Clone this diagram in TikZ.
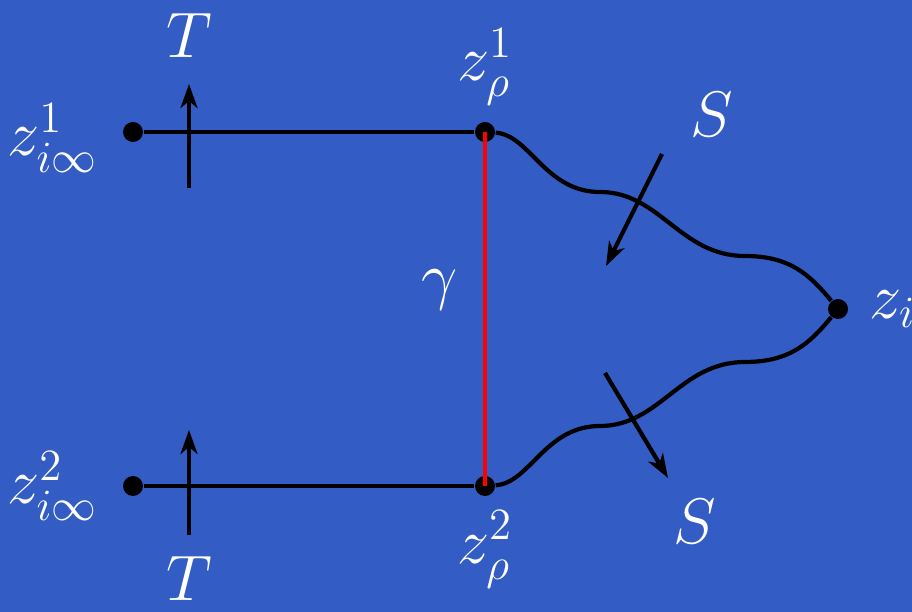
\documentclass[tikz,border=0pt]{standalone}
\usepackage{amsfonts}
\usepackage{amsmath}
\usepackage{tikz}
\usetikzlibrary{positioning, arrows, arrows.meta}
\definecolor{slideblue}{RGB}{51,93,196}
\newcommand{\biglab}[1]{\scalebox{1.06}{$#1$}}
\tikzstyle{point} = [circle, fill=black, inner sep=0pt, minimum size=0.2cm]
\tikzstyle{lab} = [text=white, inner sep=1pt, font=\LARGE]
\tikzstyle{line} = [line width=1.2pt]
\tikzstyle{arrow} = [line width=1.2pt,-{Stealth[length=2.4mm,width=1.7mm,inset=0.7mm]}]

\begin{document}
\begin{tikzpicture}
        \fill[slideblue] (0,0) rectangle (9.12,6.12);
        \useasboundingbox (0,0) rectangle (9.12,6.12);

        \node (zinf1) [point] at (1.33,4.80) {};
        \node (zinf2) [point] at (1.33,1.26) {};
        \node (zrho1) [point] at (4.85,4.80) {};
        \node (zrho2) [point] at (4.85,1.26) {};
        \node (zi) [point] at (8.38,3.03) {};

        \node (zinf1lab) [lab, left=0.2cm of zinf1, yshift=-0.06cm] {\biglab{z^1_{i\infty}}};
        \node (zinf2lab) [lab, left=0.2cm of zinf2] {\biglab{z^2_{i\infty}}};
        \node (zrho1lab) [lab, above=0.12cm of zrho1] {\biglab{z^1_\rho}};
        \node (zrho2lab) [lab, below=0.1cm of zrho2] {\biglab{z^2_\rho}};
        \node (zilab) [lab, right=0.17cm of zi] {\biglab{z_i}};
        \node (gamma) [lab] at (4.40,3.22) {\biglab{\gamma}};

        \coordinate (tb1) at (1.89,4.24);
        \coordinate (tt1) at (1.89,5.28);
        \coordinate (tb2) at (1.89,0.77);
        \coordinate (tt2) at (1.89,1.82);
        \node (t1) [lab, above=0.22cm of tt1] {\biglab{T}};
        \node (t2) [lab, below=0.17cm of tb2] {\biglab{T}};

        \coordinate (s1a) at (6.62,4.58);
        \coordinate (s1b) at (6.06,3.46);
        \coordinate (s2a) at (6.05,2.39);
        \coordinate (s2b) at (6.68,1.34);
        \node (s1) [lab] at (7.12,4.97) {\biglab{S}};
        \node (s2) [lab] at (6.95,0.90) {\biglab{S}};

        \draw [line] (zinf1) -- (zrho1);
        \draw [line] (zinf2) -- (zrho2);
        \draw [arrow] (tb1) -- (tt1);
        \draw [arrow] (tb2) -- (tt2);
        \draw [line] (zrho1) .. controls (5.30,4.77) and (5.45,4.20) .. (6.00,4.20)
                .. controls (6.60,4.20) and (6.80,3.56) .. (7.45,3.56)
                .. controls (7.90,3.56) and (8.10,3.37) .. (zi);
        \draw [line] (zrho2) .. controls (5.30,1.29) and (5.45,1.86) .. (6.00,1.86)
                .. controls (6.60,1.86) and (6.80,2.50) .. (7.45,2.50)
                .. controls (7.90,2.50) and (8.10,2.69) .. (zi);
        \draw [arrow] (s1a) -- (s1b);
        \draw [arrow] (s2a) -- (s2b);
        \draw [red, line width=1.2pt] (zrho1.center) -- (zrho2.center);
\end{tikzpicture}
\end{document}
